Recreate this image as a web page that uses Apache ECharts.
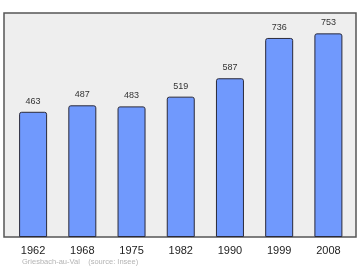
<!DOCTYPE html>
<html>
<head>
<meta charset="utf-8">
<script src="https://cdn.jsdelivr.net/npm/echarts@6/dist/echarts.min.js"></script>
<style>html,body{margin:0;padding:0;background:#fff}#c{width:360px;height:270px}</style>
</head>
<body>
<div id="c"></div>
<script>
const years = ['1962', '1968', '1975', '1982', '1990', '1999', '2008'];
const population = [463, 487, 483, 519, 587, 736, 753];
const footnote = 'Griesbach-au-Val    (source: Insee)';

const chart = echarts.init(document.getElementById('c'), null, {renderer: 'canvas'});
chart.setOption({
  animation: false,
  backgroundColor: '#ffffff',
  title: {
    text: footnote,
    left: 22,
    top: 258,
    padding: 0,
    textStyle: {fontSize: 7.5, fontWeight: 'normal', color: '#b4b4b4', fontFamily: 'Liberation Sans, Arial, sans-serif'}
  },
  graphic: [{
    type: 'rect',
    z: -1,
    shape: {x: 4, y: 13, width: 352, height: 224},
    style: {fill: '#eeeeee', stroke: '#555555', lineWidth: 1.5}
  }],
  grid: {left: 8.5, right: 7, top: 13, bottom: 33},
  xAxis: {
    type: 'category',
    data: years,
    axisLine: {show: false},
    axisTick: {show: false},
    axisLabel: {fontSize: 11, color: '#222', margin: 8, fontFamily: 'Liberation Sans, Arial, sans-serif'}
  },
  yAxis: {
    type: 'value',
    min: 0,
    max: 828.3,
    show: false,
    splitLine: {show: false}
  },
  series: [{
    type: 'bar',
    data: population,
    barWidth: 28,
    itemStyle: {color: '#7099fd', borderColor: '#2a2a3a', borderWidth: 1, borderRadius: [2, 2, 0, 0]},
    label: {
      show: true,
      position: 'top',
      distance: 6,
      fontSize: 9,
      color: '#333',
      fontFamily: 'Liberation Sans, Arial, sans-serif'
    }
  }]
});
</script>
</body>
</html>
